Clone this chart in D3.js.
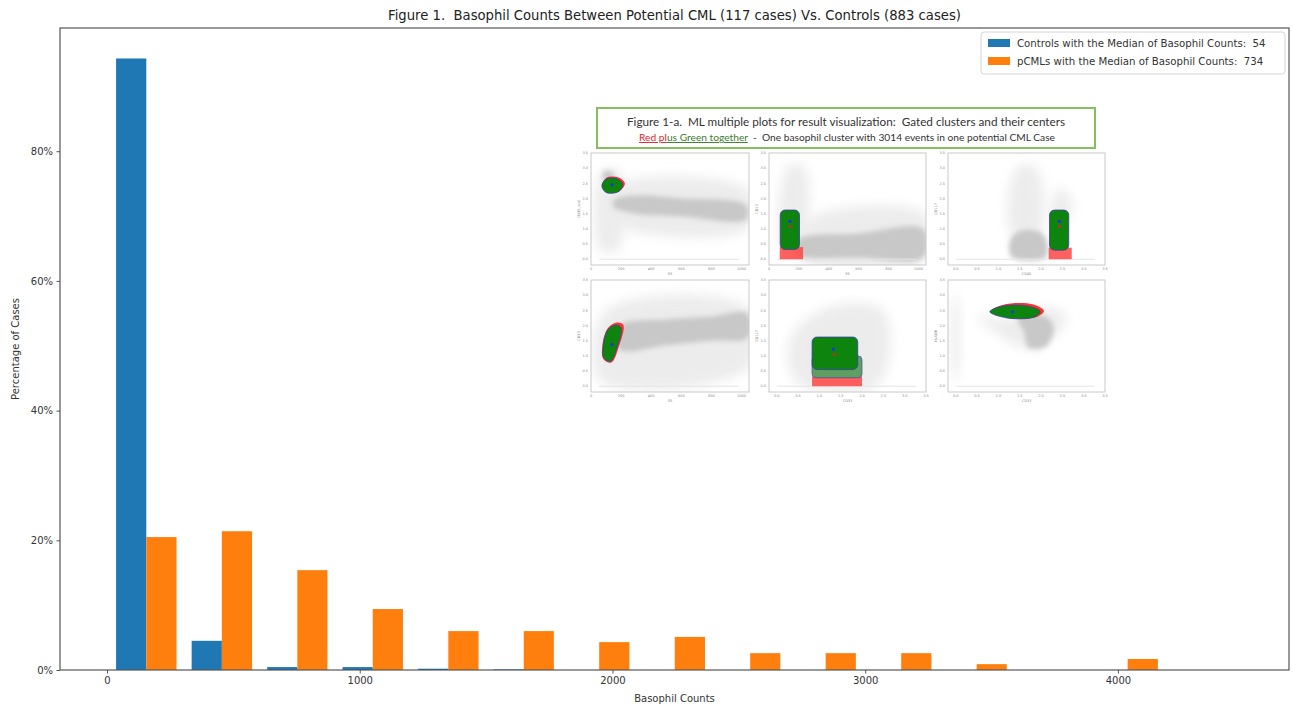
<!DOCTYPE html>
<html><head><meta charset="utf-8">
<script src="https://cdn.jsdelivr.net/npm/d3@7"></script>
<style>body{margin:0;background:#fff} svg{display:block} text{font-family:"DejaVu Sans",sans-serif;white-space:pre}</style>
</head><body><svg id="c" width="1293" height="706"></svg>
<script>
// ---------- data ----------
const binEdges = [6, 305, 604, 902, 1201, 1500, 1798, 2097, 2396, 2694, 2993, 3292, 3590, 3889, 4188];
const controlsPct = [94.3, 4.5, 0.45, 0.45, 0.2, 0.1, 0, 0, 0, 0, 0, 0, 0, 0];
const pcmlPct = [20.5, 21.4, 15.4, 9.4, 6.0, 6.0, 4.3, 5.1, 2.6, 2.6, 2.6, 0.9, 0, 1.7];
const seriesNames = ["Controls with the Median of Basophil Counts:  54", "pCMLs with the Median of Basophil Counts:  734"];
const seriesColors = ["#1f77b4", "#ff7f0e"];
const xTicks = [0, 1000, 2000, 3000, 4000];
const yTicks = [0, 20, 40, 60, 80];
const titleText = "Figure 1.  Basophil Counts Between Potential CML (117 cases) Vs. Controls (883 cases)";
const xLabel = "Basophil Counts";
const yLabel = "Percentage of Cases";

// inset (Figure 1-a) descriptors, in each small panel's own data units
const insetLine1 = "Figure 1-a.  ML multiple plots for result visualization:  Gated clusters and their centers";
const insetLine2 = [["Red pl", "#e3262b", true], ["us Green together", "#3a7d2c", true], ["  -  One basophil cluster with 3014 events in one potential CML Case", "#333", false]];
const panelXTicksSS = [0, 200, 400, 600, 800, 1000];
const panelXTicksM = [0, 0.5, 1, 1.5, 2, 2.5, 3, 3.5];
const panelYTicks = [0, 0.5, 1, 1.5, 2, 2.5, 3, 3.5];
const panelDefs = [
  {xd: [0, 1050], xt: panelXTicksSS, xl: "SS", yl: "CD45_scal",
   haze: [[[60, 0.3], [180, 0.3], [190, 2.9], [70, 2.9]], [[150, 1.2], [1040, 1.0], [1040, 2.3], [150, 2.4]]],
   grey: [[[150, 1.95], [300, 2.1], [600, 2.0], [1030, 1.78], [1030, 1.3], [600, 1.42], [300, 1.5], [150, 1.72]],
          [[80, 2.65], [140, 2.6], [150, 2.85], [90, 2.9]]],
   red: [[[75, 2.4], [110, 2.2], [190, 2.24], [225, 2.5], [180, 2.7], [100, 2.68]]],
   green: [[[72, 2.42], [100, 2.2], [180, 2.22], [212, 2.46], [170, 2.66], [100, 2.64]]],
   blue: [140, 2.45], redc: null},
  {xd: [0, 1050], xt: panelXTicksSS, xl: "SS", yl: "CD13",
   haze: [[[90, 0.3], [210, 0.3], [240, 3.0], [130, 3.1]], [[200, 0.0], [1040, 0.0], [1040, 1.5], [250, 1.3]]],
   grey: [[[200, 0.65], [600, 0.85], [1030, 1.0], [1030, 0.05], [600, 0.05], [200, 0.15]]],
   redRect: [72, 228, 0, 0.4], greenRect: [75, 204, 0.32, 1.62],
   blue: [140, 1.25], redc: [140, 1.07]},
  {xd: [-0.18, 3.5], xt: panelXTicksM, xl: "CD45", yl: "CD117",
   haze: [[[1.3, 0.8], [1.95, 0.8], [1.9, 3.0], [1.45, 3.05]], [[2.25, 1.4], [2.7, 1.4], [2.6, 2.25], [2.35, 2.25]]],
   grey: [[[1.3, 0.08], [2.1, 0.05], [2.15, 0.5], [2.0, 0.88], [1.55, 0.95], [1.3, 0.7]]],
   redRect: [2.18, 2.72, 0, 0.38], greenRect: [2.2, 2.65, 0.3, 1.62],
   blue: [2.43, 1.25], redc: [2.43, 1.07]},
  {xd: [0, 1050], xt: panelXTicksSS, xl: "SS", yl: "CD33",
   haze: [[[60, 0.2], [1040, 0.6], [1040, 2.6], [100, 2.5]]],
   grey: [[[190, 2.0], [500, 2.2], [800, 2.3], [1040, 2.4], [1040, 1.6], [800, 1.5], [500, 1.35], [190, 1.2]]],
   red: [[[82, 0.9], [135, 0.78], [185, 1.3], [215, 2.02], [170, 2.1], [110, 1.9], [75, 1.3]]],
   green: [[[85, 0.93], [130, 0.82], [175, 1.3], [200, 1.92], [165, 2.02], [110, 1.85], [80, 1.3]]],
   blue: [140, 1.38], redc: null},
  {xd: [-0.18, 3.5], xt: panelXTicksM, xl: "CD33", yl: "CD117",
   haze: [[[0.5, 0.1], [2.4, 0.1], [2.5, 2.5], [1.2, 2.6], [0.3, 1.5]]],
   grey: [],
   redRect: [0.83, 2.0, 0, 0.32], lightRect: [0.83, 2.0, 0.28, 1.0], greenRect: [0.83, 1.9, 0.55, 1.62],
   blue: [1.33, 1.22], redc: [1.35, 1.05]},
  {xd: [-0.18, 3.5], xt: panelXTicksM, xl: "CD33", yl: "HLADR",
   haze: [[[0.5, 2.35], [1.2, 2.2], [2.0, 2.6], [2.6, 2.3], [2.0, 1.3], [1.5, 1.3]], [[-0.03, 0.2], [0.03, 0.2], [0.03, 3.0], [-0.03, 3.0]]],
   grey: [[[1.45, 2.25], [2.1, 2.3], [2.3, 1.9], [2.1, 1.3], [1.7, 1.28], [1.6, 1.8]]],
   red: [[[0.82, 2.47], [1.2, 2.26], [1.9, 2.28], [2.07, 2.48], [1.8, 2.7], [1.1, 2.68]]],
   green: [[[0.8, 2.45], [1.2, 2.25], [1.85, 2.28], [1.98, 2.46], [1.7, 2.64], [1.1, 2.64]]],
   blue: [1.33, 2.45], redc: null}
];

// ---------- layout ----------
const svg = d3.select("#c");
const L = 60, R = 1289, T = 28, B = 670;
const x = d3.scaleLinear().domain([-186, 4677]).range([L, R]);
const y = d3.scaleLinear().domain([0, 99]).range([B, T]);

// bars
const seriesData = [controlsPct, pcmlPct];
seriesData.forEach((vals, s) => {
  svg.append("g").selectAll("rect").data(vals).join("rect")
    .attr("x", (d, i) => { const w = binEdges[i + 1] - binEdges[i]; return x(binEdges[i] + w * (0.1 + 0.4 * s)); })
    .attr("width", (d, i) => { const w = binEdges[i + 1] - binEdges[i]; return x(binEdges[i] + w * 0.4) - x(binEdges[i]); })
    .attr("y", d => y(d))
    .attr("height", d => y(0) - y(d))
    .attr("fill", seriesColors[s]);
});

// axes
const xAxis = svg.append("g").attr("transform", `translate(0,${B})`)
  .call(d3.axisBottom(x).tickValues(xTicks).tickFormat(d3.format("d")).tickSize(3.5).tickSizeOuter(0));
const yAxis = svg.append("g").attr("transform", `translate(${L},0)`)
  .call(d3.axisLeft(y).tickValues(yTicks).tickFormat(d => d + "%").tickSize(3.5).tickSizeOuter(0));
[xAxis, yAxis].forEach(g => {
  g.select(".domain").remove();
  g.selectAll(".tick line").attr("stroke", "#555");
  g.selectAll(".tick text").attr("fill", "#333").style("font-size", "10px").style("font-family", "DejaVu Sans");
});
xAxis.selectAll(".tick text").attr("dy", "0.71em").attr("y", 7);
yAxis.selectAll(".tick text").attr("x", -7);

// frame
svg.append("rect").attr("x", L).attr("y", T).attr("width", R - L).attr("height", B - T)
  .attr("fill", "none").attr("stroke", "#555").attr("stroke-width", 1.2);

// labels
svg.append("text").attr("x", (L + R) / 2).attr("y", 20).attr("text-anchor", "middle")
  .style("font-size", "13.2px").attr("fill", "#222").text(titleText);
svg.append("text").attr("x", (L + R) / 2).attr("y", 702).attr("text-anchor", "middle")
  .style("font-size", "10px").attr("fill", "#333").text(xLabel);
svg.append("text").attr("transform", `translate(19,${(T + B) / 2}) rotate(-90)`).attr("text-anchor", "middle")
  .style("font-size", "10px").attr("fill", "#333").text(yLabel);

// legend
const lg = svg.append("g");
lg.append("rect").attr("x", 981).attr("y", 32).attr("width", 304).attr("height", 42).attr("rx", 3)
  .attr("fill", "#fff").attr("fill-opacity", 0.8).attr("stroke", "#d4d4d4");
seriesNames.forEach((n, i) => {
  lg.append("rect").attr("x", 988).attr("y", 39 + i * 18).attr("width", 22).attr("height", 8).attr("fill", seriesColors[i]);
  lg.append("text").attr("x", 1017).attr("y", 47 + i * 18).style("font-size", "10.2px").attr("fill", "#333").text(n);
});

// ---------- inset Figure 1-a ----------
const ins = svg.append("g");
const defs = svg.append("defs");
defs.append("filter").attr("id", "blurA").attr("x", "-50%").attr("y", "-50%").attr("width", "200%").attr("height", "200%")
  .append("feGaussianBlur").attr("stdDeviation", 6);
defs.append("filter").attr("id", "blurB").attr("x", "-50%").attr("y", "-50%").attr("width", "200%").attr("height", "200%")
  .append("feGaussianBlur").attr("stdDeviation", 2.8);
defs.append("filter").attr("id", "blurC").attr("x", "-20%").attr("y", "-20%").attr("width", "140%").attr("height", "140%")
  .append("feGaussianBlur").attr("stdDeviation", 0.6);

ins.append("rect").attr("x", 597).attr("y", 108).attr("width", 498).attr("height", 40)
  .attr("fill", "#fff").attr("stroke", "#86bf62").attr("stroke-width", 2);
ins.append("text").attr("x", 846).attr("y", 126).attr("text-anchor", "middle")
  .style("font-family", "Lato").style("font-size", "11px").attr("fill", "#333")
  .attr("textLength", 438).attr("lengthAdjust", "spacingAndGlyphs").text(insetLine1);
const t2 = ins.append("text").attr("x", 639).attr("y", 141)
  .style("font-family", "Lato").style("font-size", "9.5px")
  .attr("textLength", 416).attr("lengthAdjust", "spacingAndGlyphs");
insetLine2.forEach(([s, c, u]) => {
  t2.append("tspan").attr("fill", c).style("text-decoration", u ? "underline" : "none").text(s);
});

const colsX = [[591, 749], [769, 926], [948, 1105]];
const rowsY = [[153, 265], [280, 392]];
const lineGen = d3.line().curve(d3.curveCatmullRomClosed);
panelDefs.forEach((p, k) => {
  const [x0, x1] = colsX[k % 3], [y0, y1] = rowsY[Math.floor(k / 3)];
  const px = d3.scaleLinear().domain(p.xd).range([x0, x1]);
  const py = d3.scaleLinear().domain([-0.19, 3.5]).range([y1, y0]);
  const g = ins.append("g");
  g.append("rect").attr("x", x0).attr("y", y0).attr("width", x1 - x0).attr("height", y1 - y0).attr("fill", "#fff");
  const path = pts => lineGen(pts.map(d => [px(d[0]), py(d[1])]));
  const clipId = "clip" + k;
  defs.append("clipPath").attr("id", clipId).append("rect").attr("x", x0).attr("y", y0).attr("width", x1 - x0).attr("height", y1 - y0);
  const gc = g.append("g").attr("clip-path", `url(#${clipId})`);
  (p.haze || []).forEach(pts => gc.append("path").attr("d", path(pts)).attr("fill", "#ececec").attr("filter", "url(#blurA)"));
  (p.grey || []).forEach(pts => gc.append("path").attr("d", path(pts)).attr("fill", "#c8c8c8").attr("filter", "url(#blurB)"));
  gc.append("line").attr("x1", x0 + 8).attr("x2", x1 - 10).attr("y1", py(0)).attr("y2", py(0)).attr("stroke", "#e4e4e4");
  const rectBox = r => [px(r[0]), px(r[1]), py(r[3]), py(r[2])];
  if (p.redRect) {
    const [a, b, c, d] = rectBox(p.redRect);
    gc.append("rect").attr("x", a).attr("y", c).attr("width", b - a).attr("height", d - c).attr("fill", "#f44").attr("opacity", 0.85).attr("filter", "url(#blurC)");
  }
  if (p.lightRect) {
    const [a, b, c, d] = rectBox(p.lightRect);
    gc.append("rect").attr("x", a).attr("y", c).attr("width", b - a).attr("height", d - c).attr("rx", 4)
      .attr("fill", "#5f9f5f").attr("stroke", "#4a4ab0").attr("stroke-width", 0.7).attr("filter", "url(#blurC)");
  }
  if (p.greenRect) {
    const [a, b, c, d] = rectBox(p.greenRect);
    gc.append("rect").attr("x", a).attr("y", c).attr("width", b - a).attr("height", d - c).attr("rx", 5)
      .attr("fill", "#0d840d").attr("stroke", "#3b3bb0").attr("stroke-width", 0.8).attr("filter", "url(#blurC)");
  }
  (p.red || []).forEach(pts => gc.append("path").attr("d", path(pts)).attr("fill", "#f33").attr("filter", "url(#blurC)"));
  (p.green || []).forEach(pts => gc.append("path").attr("d", path(pts)).attr("fill", "#0d840d").attr("stroke", "#3b3bb0").attr("stroke-width", 0.7).attr("filter", "url(#blurC)"));
  if (p.redc) gc.append("circle").attr("cx", px(p.redc[0])).attr("cy", py(p.redc[1])).attr("r", 1.4).attr("fill", "#d22");
  gc.append("circle").attr("cx", px(p.blue[0])).attr("cy", py(p.blue[1])).attr("r", 1.6).attr("fill", "#2233dd");
  g.append("rect").attr("x", x0).attr("y", y0).attr("width", x1 - x0).attr("height", y1 - y0)
    .attr("fill", "none").attr("stroke", "#bbb").attr("stroke-width", 0.8);
  const tf = p.xd[1] > 100 ? d3.format("d") : d3.format(".1f");
  p.xt.forEach(v => g.append("text").attr("x", px(v)).attr("y", y1 + 5).attr("text-anchor", "middle")
    .style("font-size", "3.5px").attr("fill", "#888").text(tf(v)));
  panelYTicks.forEach(v => g.append("text").attr("x", x0 - 3).attr("y", py(v) + 1.2).attr("text-anchor", "end")
    .style("font-size", "3.5px").attr("fill", "#888").text(d3.format(".1f")(v)));
  g.append("text").attr("x", (x0 + x1) / 2).attr("y", y1 + 10).attr("text-anchor", "middle")
    .style("font-size", "3.5px").attr("fill", "#888").text(p.xl);
  g.append("text").attr("transform", `translate(${x0 - 11},${(y0 + y1) / 2}) rotate(-90)`).attr("text-anchor", "middle")
    .style("font-size", "3.5px").attr("fill", "#888").text(p.yl);
});
</script></body></html>
